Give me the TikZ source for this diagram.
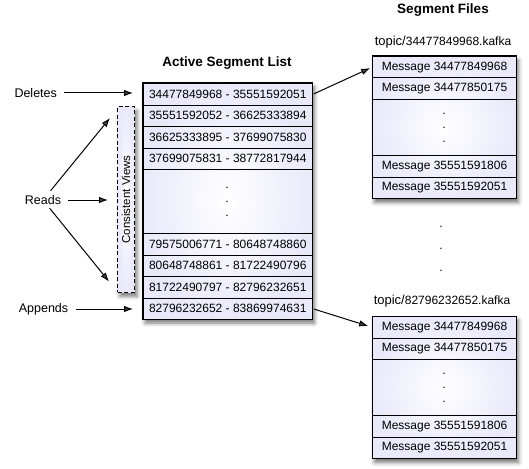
\documentclass[tikz,border=0pt]{standalone}
\usepackage{fontspec}
\setmainfont{Liberation Sans}
\usetikzlibrary{arrows.meta,shadows.blur}
\definecolor{lav}{RGB}{233,233,250}
\tikzset{
  panel/.style={draw=black, line width=1pt, shading=radial, inner color=white, outer color=lav,
    blur shadow={shadow xshift=2.5pt, shadow yshift=-4pt, shadow blur radius=4pt, shadow opacity=55}},
  cell/.style={draw=black, line width=1pt, inner sep=0pt, anchor=north west,
    minimum height=21.5pt, font=\fontsize{12}{14}\selectfont},
  lrow/.style={cell, minimum width=169.5pt},
  brow/.style={cell, minimum width=144pt},
  dotcell/.style={align=center, font=\fontsize{12}{14}\selectfont},
  lbl/.style={inner sep=0pt, font=\fontsize{12.5}{15}\selectfont},
  ttl/.style={inner sep=0pt, font=\fontsize{13.5}{16}\selectfont\bfseries},
  fname/.style={inner sep=0pt},
  arr/.style={line width=1pt, -{Latex[length=9pt,width=6.5pt]}},
  cvbox/.style={draw=black, line width=1pt, dash pattern=on 4pt off 2.5pt,
    shading=radial, inner color=white, outer color=lav,
    blur shadow={shadow xshift=2.5pt, shadow yshift=-4pt, shadow blur radius=4pt, shadow opacity=55},
    minimum width=17pt, minimum height=185.5pt, inner sep=0pt,
    font=\fontsize{11.5}{14}\selectfont}
}
\begin{document}
\begin{tikzpicture}[x=1pt,y=-1pt]
\useasboundingbox (0,0) rectangle (529,468);

% titles
\node[ttl] (t1) at (227,63.5) {Active Segment List};
\node[ttl] (t2) at (443,10) {Segment Files};
\node[fname] (f1) at (443,42) {\fontsize{13}{15}\selectfont topic/\fontsize{12}{15}\selectfont 34477849968.kafka};
\node[fname] (f2) at (442,301.5) {\fontsize{13}{15}\selectfont topic/\fontsize{12}{15}\selectfont 82796232652.kafka};

% active segment list
\path[panel] (142.5,83) rectangle (312,319);
\node[lrow] (l1) at (142.5,83) {34477849968 - 35551592051};
\node[lrow] (l2) at (142.5,104.5) {35551592052 - 36625333894};
\node[lrow] (l3) at (142.5,126) {36625333895 - 37699075830};
\node[lrow] (l4) at (142.5,147.5) {37699075831 - 38772817944};
\node[lrow, minimum height=64pt] (ld) at (142.5,169) {};
\node[dotcell] (ldt) at (227,201.5) {.\\.\\.};
\node[lrow] (l5) at (142.5,233) {79575006771 - 80648748860};
\node[lrow] (l6) at (142.5,254.5) {80648748861 - 81722490796};
\node[lrow] (l7) at (142.5,276) {81722490797 - 82796232651};
\node[lrow] (l8) at (142.5,297.5) {82796232652 - 83869974631};

% consistent views
\node[cvbox] (cv) at (126,199.5) {\rotatebox{90}{Consistent Views}};

% segment file 1
\path[panel] (372,56) rectangle (516,198.5);
\node[brow] (a1) at (372,56) {Message 34477849968};
\node[brow] (a2) at (372,77.5) {Message 34477850175};
\node[brow, minimum height=56pt] (ad) at (372,99) {};
\node[dotcell] (adt) at (444,128) {.\\.\\.};
\node[brow] (a3) at (372,155) {Message 35551591806};
\node[brow] (a4) at (372,176.5) {Message 35551592051};

% segment file 2
\path[panel] (372,316) rectangle (516,458.5);
\node[brow] (b1) at (372,316) {Message 34477849968};
\node[brow] (b2) at (372,337.5) {Message 34477850175};
\node[brow, minimum height=56pt] (bd) at (372,359) {};
\node[dotcell] (bdt) at (444,388) {.\\.\\.};
\node[brow] (b3) at (372,415) {Message 35551591806};
\node[brow] (b4) at (372,436.5) {Message 35551592051};

% dots between files
\node[align=center, font=\fontsize{12}{21.7}\selectfont] (gap) at (441,249) {.\\.\\.};

% labels
\node[lbl] (del) at (35.7,93) {Deletes};
\node[lbl] (rd) at (43,200) {Reads};
\node[lbl] (ap) at (43.5,309) {Appends};
\coordinate (ru) at (110,118);
\coordinate (rl) at (109,281.5);

% connectors
\draw[arr, shorten <=7pt, shorten >=9.5pt] (del.east) -- (del.east -| l1.west);
\draw[arr, shorten <=7pt, shorten >=9pt] (rd.east) -- (rd.east -| cv.west);
\draw[arr, shorten <=12pt] (rd.center) -- (ru);
\draw[arr, shorten <=10.6pt] (rd.center) -- (rl);
\draw[arr, shorten <=8pt, shorten >=9.5pt] (ap.east) -- (ap.east -| l8.west);
\draw[arr, shorten <=1pt, shorten >=2pt] (l1.east) -- (a1.west);
\draw[arr, shorten <=1pt, shorten >=4pt] (l8.east) -- (b1.west);
\end{tikzpicture}
\end{document}
